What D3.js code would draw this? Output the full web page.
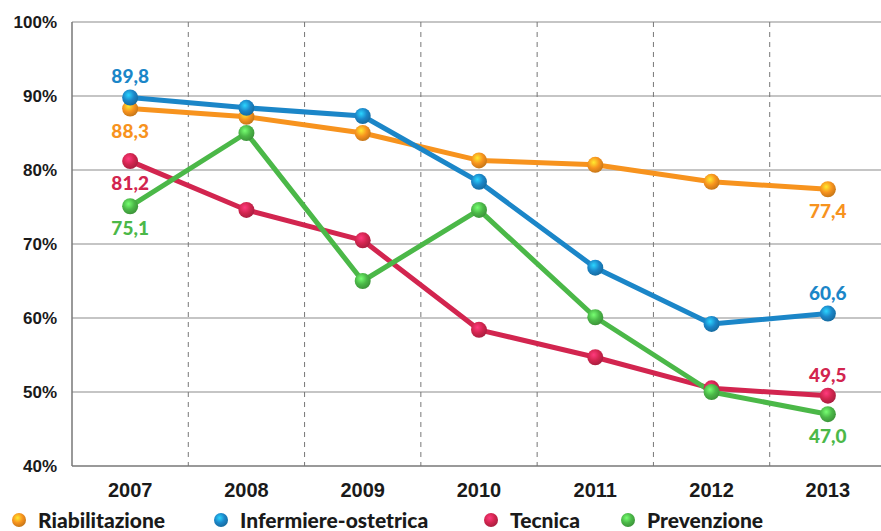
<!DOCTYPE html>
<html>
<head>
<meta charset="utf-8">
<script src="https://cdn.jsdelivr.net/npm/d3@7"></script>
<style>
  html, body { margin: 0; padding: 0; background: #fff; }
  svg { display: block; font-family: "Lato", "Open Sans", sans-serif; }
</style>
</head>
<body>
<svg id="chart" width="881" height="531"></svg>
<script>
// Anni e percentuali per area professionale
const years = ["2007", "2008", "2009", "2010", "2011", "2012", "2013"];
const riabilitazione = [88.3, 87.2, 85.0, 81.3, 80.7, 78.4, 77.4];
const infermiere = [89.8, 88.4, 87.3, 78.4, 66.8, 59.2, 60.6];
const tecnica = [81.2, 74.6, 70.5, 58.4, 54.7, 50.5, 49.5];
const prevenzione = [75.1, 85.0, 65.0, 74.6, 60.1, 50.0, 47.0];
const seriesNames = ["Riabilitazione", "Infermiere-ostetrica", "Tecnica", "Prevenzione"];
const seriesColors = ["#f7931e", "#1b86c8", "#d2254f", "#4bb848"];
const yTicks = [40, 50, 60, 70, 80, 90, 100];

// Etichette di valore: primo e ultimo anno, sopra (-1) o sotto (+1) il punto
const labelSides = [
  [1, 1],    // Riabilitazione
  [-1, -1],  // Infermiere-ostetrica
  [1, -1],   // Tecnica
  [1, 1]     // Prevenzione
];

const series = [riabilitazione, infermiere, tecnica, prevenzione].map((v, i) => ({
  name: seriesNames[i], color: seriesColors[i], values: v, sides: labelSides[i]
}));

const svg = d3.select("#chart");
const margin = { left: 72, top: 22 };
const W = 881;

const x = d3.scaleBand().domain(years).range([margin.left, 886]).padding(0);
const y = d3.scaleLinear().domain([40, 100]).range([466, margin.top]);
const cx = d => x(d) + x.bandwidth() / 2;

// Gradienti sferici per i marcatori
const defs = svg.append("defs");
series.forEach((s, i) => {
  const g = defs.append("radialGradient").attr("id", "ball" + i)
    .attr("cx", "40%").attr("cy", "35%").attr("r", "65%");
  g.append("stop").attr("offset", "0%").attr("stop-color", d3.color(s.color).brighter(1.3));
  g.append("stop").attr("offset", "55%").attr("stop-color", s.color);
  g.append("stop").attr("offset", "100%").attr("stop-color", d3.color(s.color).darker(0.6));
});

// Griglia orizzontale
svg.append("g")
  .selectAll("line").data(yTicks).join("line")
  .attr("x1", margin.left).attr("x2", W)
  .attr("y1", d => y(d)).attr("y2", d => y(d))
  .attr("stroke", d => d === 40 ? "#777" : "#8c8c8c")
  .attr("stroke-width", d => d === 40 ? 1.6 : 1.2);

// Separatori verticali tratteggiati tra gli anni
svg.append("g")
  .selectAll("line").data(years.slice(1)).join("line")
  .attr("x1", d => x(d)).attr("x2", d => x(d))
  .attr("y1", y(100)).attr("y2", y(40))
  .attr("stroke", "#777").attr("stroke-width", 1)
  .attr("stroke-dasharray", "5,5");

// Asse verticale
svg.append("line")
  .attr("x1", margin.left).attr("x2", margin.left)
  .attr("y1", y(100)).attr("y2", y(40))
  .attr("stroke", "#777").attr("stroke-width", 1.5);

// Etichette asse Y
const yAxis = d3.axisLeft(y).tickValues(yTicks).tickFormat(d => d + "%").tickSize(0).tickPadding(15);
const gy = svg.append("g").attr("transform", `translate(${margin.left},0)`).call(yAxis);
gy.select(".domain").remove();
gy.selectAll("text")
  .attr("font-size", 17).attr("font-weight", 900).attr("fill", "#1a1a1a")
  .attr("dy", "0.35em");

// Etichette asse X
const xAxis = d3.axisBottom(x).tickSize(0).tickPadding(17);
const gx = svg.append("g").attr("transform", `translate(0,${y(40)})`).call(xAxis);
gx.select(".domain").remove();
gx.selectAll("text")
  .attr("font-size", 20).attr("font-weight", 900).attr("fill", "#1a1a1a");

// Linee delle serie
const line = d3.line().x((d, i) => cx(years[i])).y(d => y(d));
svg.append("g").selectAll("path").data(series).join("path")
  .attr("d", s => line(s.values))
  .attr("fill", "none")
  .attr("stroke", s => s.color)
  .attr("stroke-width", 5)
  .attr("stroke-linejoin", "round");

// Marcatori
series.forEach((s, i) => {
  svg.append("g").selectAll("circle").data(s.values).join("circle")
    .attr("cx", (d, j) => cx(years[j]))
    .attr("cy", d => y(d))
    .attr("r", 8)
    .attr("fill", `url(#ball${i})`);
});

// Etichette di valore
const fmt = v => v.toFixed(1).replace(".", ",");
series.forEach(s => {
  const idx = [0, years.length - 1];
  idx.forEach((j, k) => {
    const side = s.sides[k];
    svg.append("text")
      .attr("x", cx(years[j]))
      .attr("y", y(s.values[j]) + (side < 0 ? -14 : 29))
      .attr("text-anchor", "middle")
      .attr("font-size", 19).attr("font-weight", 900)
      .attr("fill", s.color)
      .text(fmt(s.values[j]));
  });
});

// Legenda
const legendX = [19, 221, 491, 628];
const legend = svg.append("g");
series.forEach((s, i) => {
  const g = legend.append("g").attr("transform", `translate(${legendX[i]},520)`);
  g.append("circle").attr("r", 7).attr("fill", `url(#ball${i})`);
  g.append("text").attr("x", 19).attr("dy", "0.36em")
    .attr("font-size", 21).attr("font-weight", 900).attr("fill", "#1a1a1a")
    .text(s.name);
});
</script>
</body>
</html>
